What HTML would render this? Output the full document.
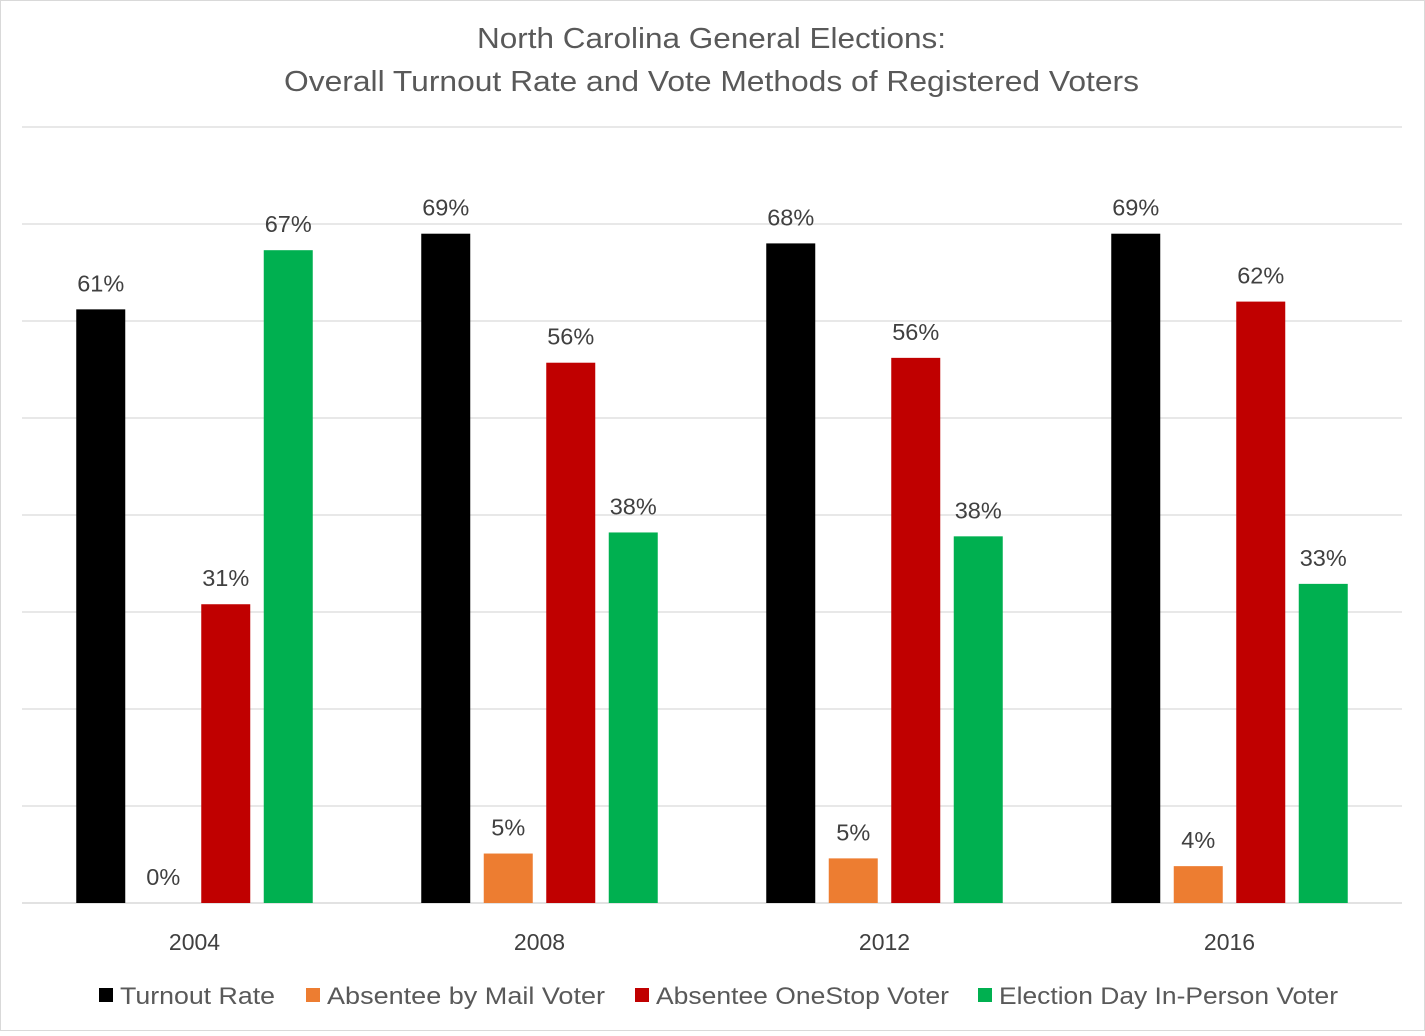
<!DOCTYPE html>
<html><head><meta charset="utf-8"><style>
body{margin:0;background:#fff;}
svg text{font-family:"Liberation Sans",sans-serif;}
</style></head><body>
<svg id="chart" width="1425" height="1031" xmlns="http://www.w3.org/2000/svg">
<rect x="0.5" y="0.5" width="1424" height="1030" fill="#fff" stroke="#d9d9d9"/>
<text x="477" y="48" textLength="469" lengthAdjust="spacingAndGlyphs" font-size="29" fill="#595959">North Carolina General Elections:</text>
<text x="284" y="91" textLength="855" lengthAdjust="spacingAndGlyphs" font-size="29" fill="#595959">Overall Turnout Rate and Vote Methods of Registered Voters</text>
<g id="grid"></g><g id="bars"></g><g id="labels"></g><g id="xaxis"></g><g id="legend"></g>
</svg>
<script>
const categories=["2004","2008","2012","2016"];
const seriesNames=["Turnout Rate","Absentee by Mail Voter","Absentee OneStop Voter","Election Day In-Person Voter"];
const turnout=[61.2,69.0,68.0,69.0];
const mail=[0,5.1,4.6,3.8];
const onestop=[30.8,55.7,56.2,62.0];
const electionDay=[67.3,38.2,37.8,32.9];
const printed=[["61%","0%","31%","67%"],["69%","5%","56%","38%"],["68%","5%","56%","38%"],["69%","4%","62%","33%"]];
const gridTicks=[0,10,20,30,40,50,60,70,80];
const colors=["#000000","#ed7d31","#c00000","#00b050"];
const series=[turnout,mail,onestop,electionDay];
const NS="http://www.w3.org/2000/svg";
const plotL=22,plotR=1402,y0=903,pxPer=9.7;
const yS=v=>y0-v*pxPer;
const catW=(plotR-plotL)/categories.length;
const xC=i=>plotL+catW*(i+0.5);
function mk(tag,attrs,parent,text){const e=document.createElementNS(NS,tag);for(const k in attrs)e.setAttribute(k,attrs[k]);if(text!==undefined)e.textContent=text;document.getElementById(parent).appendChild(e);return e;}
gridTicks.forEach(t=>{
  const l=mk("line",{x1:plotL,x2:plotR,y1:yS(t),y2:yS(t),stroke:"#d9d9d9","stroke-width":t===0?1.5:1.2},"grid");
  
  
});
const bw=49,step=62.5;
categories.forEach((c,i)=>{
  series.forEach((s,j)=>{
    const x=xC(i)+(j-1.5)*step-bw/2;
    const r=mk("rect",{x:x,y:yS(s[i]),width:bw,height:y0-yS(s[i]),fill:colors[j]},"bars");
    
    
    const t=mk("text",{x:x+bw/2,y:yS(s[i])-18,"text-anchor":"middle","font-size":23.5,fill:"#404040"},"labels",printed[i][j]);
    
    
  });
  const xl=mk("text",{x:xC(i),y:950,"text-anchor":"middle","font-size":23,fill:"#404040"},"xaxis",c);
  
  
});
const legX=[99,306,635,978];
const legW=[155,278,293,339];
seriesNames.forEach((n,j)=>{
  const r=mk("rect",{x:legX[j],y:988,width:14,height:14,fill:colors[j]},"legend");
  
  
  const t=mk("text",{x:legX[j]+21,y:1004,"font-size":24.5,fill:"#595959",textLength:legW[j],lengthAdjust:"spacingAndGlyphs"},"legend",n);
  
  
});
</script>
</body></html>
